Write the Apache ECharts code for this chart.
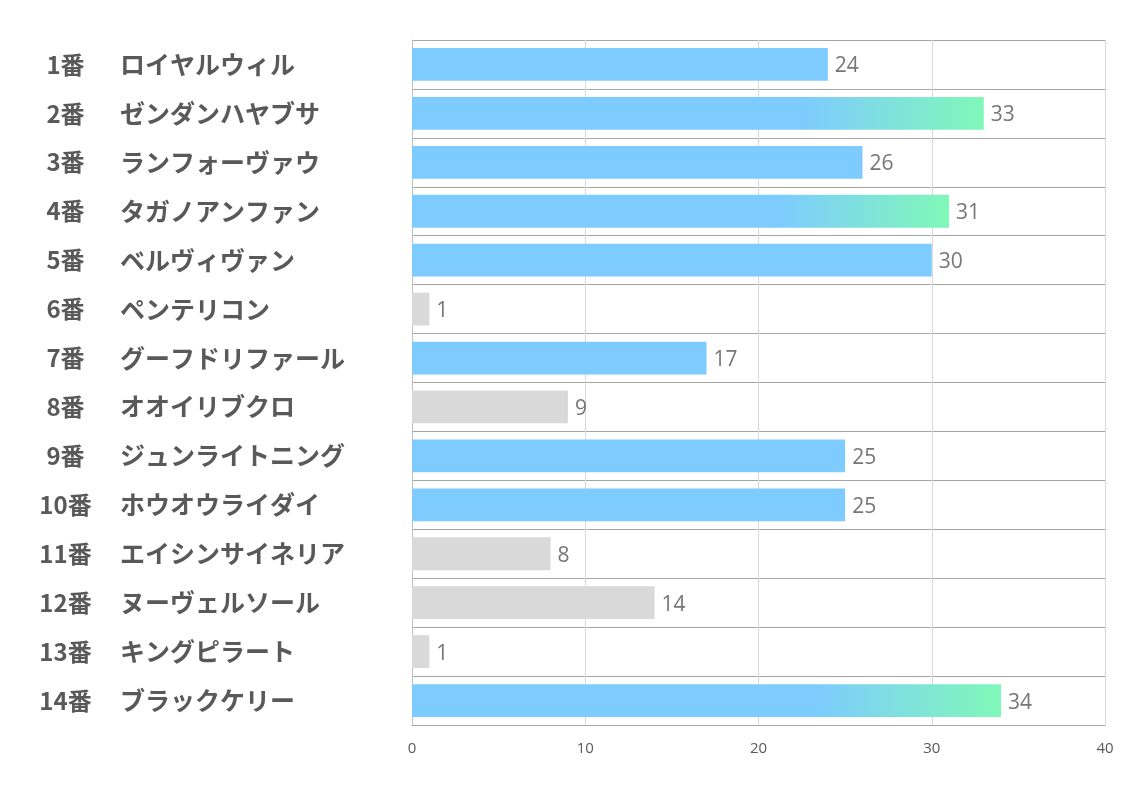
<!DOCTYPE html>
<html><head><meta charset="utf-8">
<script src="https://cdn.jsdelivr.net/npm/echarts@6/dist/echarts.min.js"></script>
<style>html,body{margin:0;padding:0;background:#fff}#c{width:1134px;height:793px}</style>
</head><body><div id="c"></div>
<script>
const numbers = ['1番','2番','3番','4番','5番','6番','7番','8番','9番','10番','11番','12番','13番','14番'];
const names = ['ロイヤルウィル','ゼンダンハヤブサ','ランフォーヴァウ','タガノアンファン','ベルヴィヴァン','ペンテリコン','グーフドリファール','オオイリブクロ','ジュンライトニング','ホウオウライダイ','エイシンサイネリア','ヌーヴェルソール','キングピラート','ブラックケリー'];
const values = [24,33,26,31,30,1,17,9,25,25,8,14,1,34];
const xTicks = [0,10,20,30,40];

const categories = numbers.map((n,i)=>n+'|'+names[i]);
const sorted = values.slice().sort((a,b)=>b-a);
const top3 = sorted[2];
const blue = '#7DCBFF', green = '#80F8B8', gray = '#D9D9D9';
function colorFor(v){
  if (v >= top3) return new echarts.graphic.LinearGradient(0,0,1,0,[
    {offset:0,color:blue},{offset:0.68,color:blue},{offset:1,color:green}]);
  if (v < 15) return gray;
  return blue;
}
const chart = echarts.init(document.getElementById('c'));
chart.setOption({
  animation:false,
  grid:{left:412,right:29,top:40,bottom:68,containLabel:false},
  xAxis:{type:'value',min:0,max:40,interval:10,
    axisLine:{show:true,lineStyle:{color:'#A6A6A6'}},
    axisTick:{show:false},
    axisLabel:{color:'#595959',fontSize:15,margin:16,fontFamily:'"Open Sans","Noto Sans",sans-serif',
      formatter:v=>xTicks.includes(v)?String(v):''},
    splitLine:{show:true,lineStyle:{color:'#D9D9D9',width:1}}
  },
  yAxis:{type:'category',inverse:true,data:categories,
    axisLine:{show:true,lineStyle:{color:'#BFBFBF'}},
    axisTick:{show:false},
    splitLine:{show:true,lineStyle:{color:'#A6A6A6',width:1}},
    axisLabel:{align:'left',margin:374,
      formatter:function(v){const p=v.split('|');return '{n|'+p[0]+'}{s|'+p[1]+'}';},
      rich:{
        n:{width:55,align:'right',fontSize:24,fontWeight:'bold',color:'#595959',fontFamily:'"Noto Sans CJK JP",sans-serif'},
        s:{padding:[0,0,0,27],fontSize:25,fontWeight:'bold',color:'#595959',fontFamily:'"Noto Sans CJK JP",sans-serif'}
      }}
  },
  series:[{type:'bar',barWidth:'67%',
    data:values.map(v=>({value:v,itemStyle:{color:colorFor(v)}})),
    label:{show:true,position:'right',distance:7,offset:[0,2],color:'#767676',fontSize:21,fontFamily:'"Open Sans","Noto Sans",sans-serif'}
  }]
});
</script></body></html>
